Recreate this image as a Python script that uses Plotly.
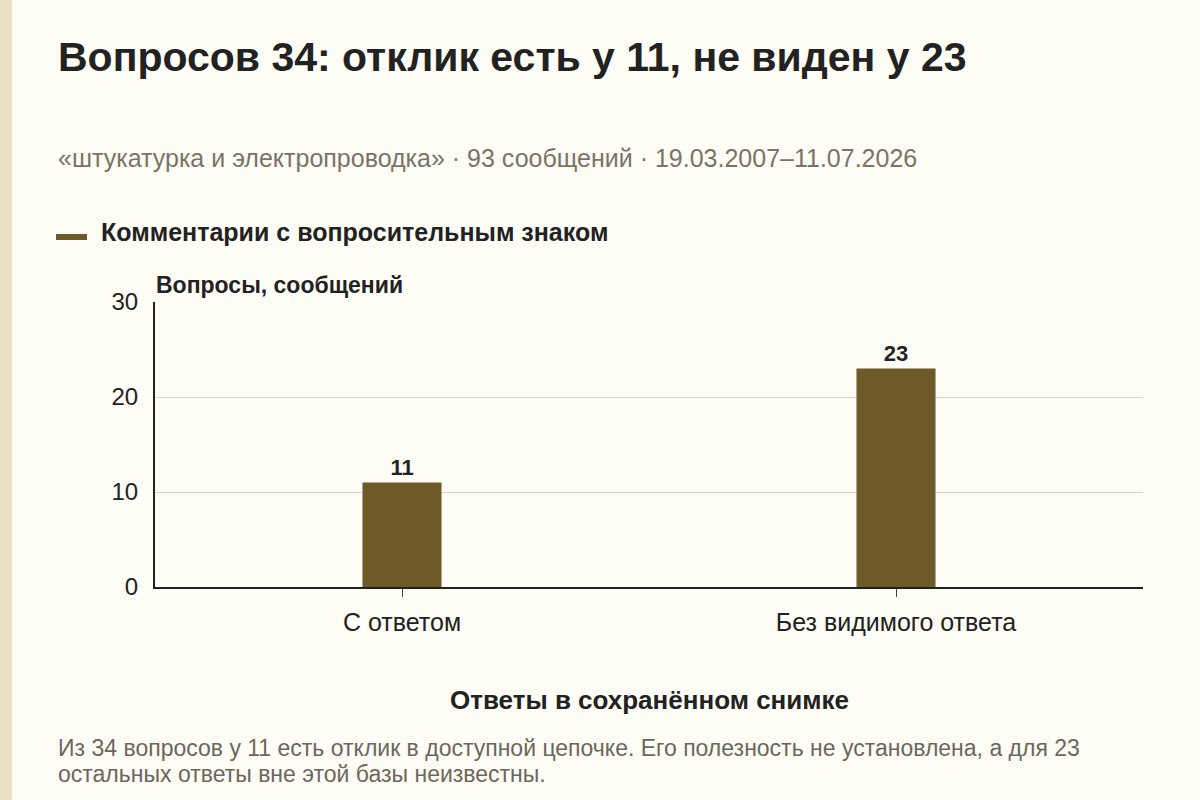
import plotly.graph_objects as go

categories = ["С ответом", "Без видимого ответа"]
values = [11, 23]
y_ticks = [0, 10, 20, 30]

title_text = "Вопросов 34: отклик есть у 11, не виден у 23"
subtitle_text = "«штукатурка и электропроводка» · 93 сообщений · 19.03.2007–11.07.2026"
legend_text = "Комментарии с вопросительным знаком"
y_title = "Вопросы, сообщений"
x_title = "Ответы в сохранённом снимке"
note_lines = ["Из 34 вопросов у 11 есть отклик в доступной цепочке. Его полезность не установлена, а для 23",
              "остальных ответы вне этой базы неизвестны."]

BAR = "#6e5a28"
BG = "#fdfcf5"
DARK = "#222222"
FONT = "Liberation Sans, Arial, sans-serif"

W, H = 1200, 800
L, R, T, B = 155, 57, 302, 213
PW, PH = W - L - R, H - T - B


def px(x):
    return (x - L) / PW


def py(y):
    return (H - B - y) / PH


fig = go.Figure()
fig.add_trace(go.Bar(
    x=categories, y=values, marker=dict(color=BAR, line=dict(width=0)),
    text=values, textposition="outside", texttemplate="<b>%{text}</b>",
    textfont=dict(size=22, color=DARK, family=FONT), cliponaxis=False,
    showlegend=False, hoverinfo="skip",
))

fig.update_layout(
    width=W, height=H, paper_bgcolor=BG, plot_bgcolor=BG,
    margin=dict(l=L, r=R, t=T, b=B, autoexpand=False),
    bargap=0.84, font=dict(family=FONT, color=DARK),
    xaxis=dict(range=[-0.5, 1.5], showline=True, linecolor=DARK, linewidth=2,
               ticks="outside", ticklen=8, tickcolor="#444", tickwidth=1,
               tickfont=dict(size=25, color=DARK), ticklabelstandoff=4,
               showgrid=False, fixedrange=True),
    yaxis=dict(range=[0, 30], tickvals=y_ticks, showline=True, linecolor=DARK, linewidth=2,
               gridcolor="#d8d5cb", gridwidth=1, zeroline=False,
               tickfont=dict(size=24, color=DARK), ticks="", ticklabelstandoff=10,
               fixedrange=True),
)

shapes = [
    dict(type="rect", xref="paper", yref="paper", x0=px(0), x1=px(12), y0=py(800), y1=py(0),
         fillcolor="#e9dfc2", line=dict(width=0), layer="below"),
    dict(type="rect", xref="paper", yref="paper", x0=px(56), x1=px(87), y0=py(240), y1=py(234),
         fillcolor=BAR, line=dict(width=0)),
]
fig.update_layout(shapes=shapes)

ann = [
    dict(text=f"<b>{title_text}</b>", x=px(56), y=py(57), font=dict(size=41, color=DARK)),
    dict(text=subtitle_text, x=px(56), y=py(158), font=dict(size=25, color="#7a7466")),
    dict(text=f"<b>{legend_text}</b>", x=px(99), y=py(232), font=dict(size=25, color=DARK)),
    dict(text=f"<b>{y_title}</b>", x=px(154), y=py(285), font=dict(size=23, color=DARK)),
    dict(text=f"<b>{x_title}</b>", x=0.5, y=py(700), xanchor="center", font=dict(size=26, color=DARK)),
    dict(text=note_lines[0], x=px(56), y=py(748), font=dict(size=23, color="#6b675c")),
    dict(text=note_lines[1], x=px(56), y=py(774), font=dict(size=23, color="#6b675c")),
]
for a in ann:
    a.setdefault("xanchor", "left")
    fig.add_annotation(xref="paper", yref="paper", yanchor="middle", showarrow=False, **a)

fig.write_html(
    "out.html",
    config={"displayModeBar": False},
    post_script="document.body.style.margin='0';document.body.style.background='%s';" % BG,
)
